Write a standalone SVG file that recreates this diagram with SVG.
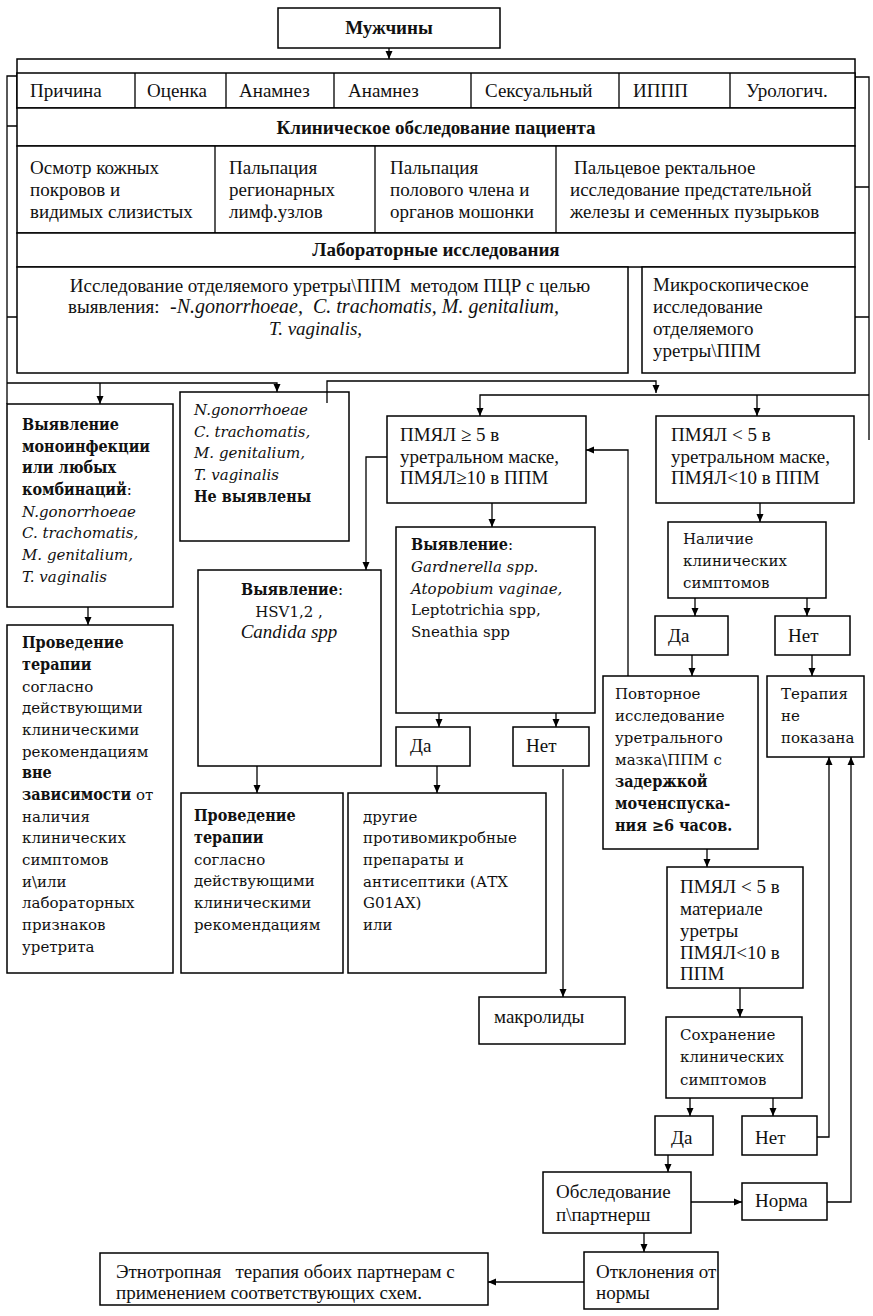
<svg xmlns="http://www.w3.org/2000/svg" width="873" height="1316" viewBox="0 0 873 1316">
<defs>
<style>
.b{fill:#fff;stroke:#000;stroke-width:1.5}
.ln{fill:none;stroke:#000;stroke-width:1.3}
.t{font-family:"Liberation Serif","Times New Roman",serif;font-size:19px;fill:#111}
.w{font-family:"DejaVu Serif",serif;font-size:15px;fill:#111}
.wb{font-family:"DejaVu Serif Condensed","DejaVu Serif",serif;font-stretch:condensed;font-weight:bold;font-size:16px}
.i{font-style:italic}
.bd{font-weight:bold}
.c{text-anchor:middle}
.pre{white-space:pre}
</style>
<marker id="ah" viewBox="0 0 8 8" refX="8" refY="4" markerWidth="8" markerHeight="8" markerUnits="userSpaceOnUse" orient="auto">
<path d="M0,0.5 L8,4 L0,7.5 z" fill="#000"/>
</marker>
</defs>
<rect width="873" height="1316" fill="#fff"/>

<g id="muzhchiny">
<rect class="b" x="278" y="8" width="222" height="40"/>
<text class="t bd c" x="389" y="34">Мужчины</text>
</g>

<g id="top-frame">
<rect class="b" x="17" y="59" width="838" height="49"/>
</g>

<g id="anamnez-row">
<rect class="b" x="17" y="73" width="838" height="35"/>
<path class="ln" d="M135,73V108M226,73V108M334,73V108M471,73V108M619,73V108M730,73V108"/>
<text class="t" x="30" y="97">Причина</text>
<text class="t" x="147" y="97">Оценка</text>
<text class="t" x="239" y="97">Анамнез</text>
<text class="t" x="348" y="97">Анамнез</text>
<text class="t" x="485" y="97">Сексуальный</text>
<text class="t" x="633" y="97">ИППП</text>
<text class="t" x="746" y="97">Урологич.</text>
</g>

<g id="klin">
<rect class="b" x="17" y="108" width="838" height="38"/>
<text class="t bd c" x="436" y="134">Клиническое обследование пациента</text>
</g>

<g id="osmotr-row">
<rect class="b" x="17" y="146" width="838" height="87"/>
<path class="ln" d="M215,146V233M375,146V233M556,146V233"/>
<text class="t" x="30" y="174">Осмотр кожных</text>
<text class="t" x="30" y="196">покровов и</text>
<text class="t" x="30" y="218">видимых слизистых</text>
<text class="t" x="229" y="174">Пальпация</text>
<text class="t" x="229" y="196">регионарных</text>
<text class="t" x="229" y="218">лимф.узлов</text>
<text class="t" x="390" y="174">Пальпация</text>
<text class="t" x="390" y="196">полового члена и</text>
<text class="t" x="390" y="218">органов мошонки</text>
<text class="t" x="574" y="174">Пальцевое ректальное</text>
<text class="t" x="570" y="196">исследование предстательной</text>
<text class="t" x="570" y="218">железы и семенных пузырьков</text>
</g>

<g id="lab">
<rect class="b" x="17" y="233" width="838" height="34"/>
<text class="t bd c" x="436" y="256">Лабораторные исследования</text>
</g>

<g id="pcr">
<rect class="b" x="17" y="267" width="611" height="106"/>
<text class="t c pre" x="330" y="292">Исследование отделяемого уретры\ППМ  методом ПЦР с целью</text>
<text class="t pre" x="68" y="313">выявления:<tspan class="i" x="170" font-size="20">-N.gonorrhoeae,  C. trachomatis, M. genitalium,</tspan></text>
<text class="t i" x="269" y="335">T. vaginalis,</text>
</g>

<g id="micro">
<rect class="b" x="642" y="267" width="213" height="106"/>
<text class="t" x="653" y="291">Микроскопическое</text>
<text class="t" x="653" y="313">исследование</text>
<text class="t" x="653" y="335">отделяемого</text>
<text class="t" x="653" y="357">уретры\ППМ</text>
</g>

<g id="vyyavlenie-mono">
<rect class="b" x="7" y="404" width="166" height="203"/>
<text class="w wb" x="22" y="430">Выявление</text>
<text class="w wb" x="22" y="452">моноинфекции</text>
<text class="w wb" x="22" y="473">или любых</text>
<text class="w" x="22" y="495"><tspan class="wb">комбинаций</tspan>:</text>
<text class="w i" x="22" y="517">N.gonorrhoeae</text>
<text class="w i" x="22" y="538">C. trachomatis,</text>
<text class="w i" x="22" y="560">M. genitalium,</text>
<text class="w i" x="22" y="582">T. vaginalis</text>
</g>

<g id="ne-vyyavleny">
<rect class="b" x="180" y="392" width="169" height="149"/>
<text class="w i" x="194" y="415">N.gonorrhoeae</text>
<text class="w i" x="194" y="437">C. trachomatis,</text>
<text class="w i" x="194" y="458">M. genitalium,</text>
<text class="w i" x="194" y="480">T. vaginalis</text>
<text class="w wb" x="194" y="502">Не выявлены</text>
</g>

<g id="pmyal-ge5">
<rect class="b" x="387" y="416" width="199" height="87"/>
<text class="t" x="400" y="441">ПМЯЛ ≥ 5 в</text>
<text class="t" x="400" y="463">уретральном маске,</text>
<text class="t" x="400" y="484">ПМЯЛ≥10 в ППМ</text>
</g>

<g id="pmyal-lt5">
<rect class="b" x="656" y="416" width="198" height="87"/>
<text class="t" x="671" y="441">ПМЯЛ &lt; 5 в</text>
<text class="t" x="671" y="463">уретральном маске,</text>
<text class="t" x="671" y="484">ПМЯЛ&lt;10 в ППМ</text>
</g>

<g id="gardnerella">
<rect class="b" x="396" y="527" width="199" height="186"/>
<text class="w" x="411" y="550"><tspan class="wb">Выявление</tspan>:</text>
<text class="w i" x="411" y="572">Gardnerella spp.</text>
<text class="w i" x="411" y="594">Atopobium vaginae,</text>
<text class="w" x="411" y="615">Leptotrichia spp,</text>
<text class="w" x="411" y="637">Sneathia spp</text>
</g>

<g id="nalichie">
<rect class="b" x="668" y="522" width="158" height="76"/>
<text class="w" x="683" y="544">Наличие</text>
<text class="w" x="683" y="566">клинических</text>
<text class="w" x="683" y="588">симптомов</text>
</g>

<g id="hsv">
<rect class="b" x="198" y="570" width="183" height="196"/>
<text class="w c" x="292" y="595"><tspan class="wb">Выявление</tspan>:</text>
<text class="w c pre" x="289" y="617">HSV1,2 ,</text>
<text class="t i c" x="289" y="638">Candida spp</text>
</g>

<g id="da1">
<rect class="b" x="655" y="616" width="73" height="39"/>
<text class="t" x="668" y="642">Да</text>
</g>
<g id="net1">
<rect class="b" x="775" y="616" width="75" height="39"/>
<text class="t" x="788" y="642">Нет</text>
</g>

<g id="provedenie-1">
<rect class="b" x="7" y="625" width="166" height="348"/>
<text class="w wb" x="22" y="648">Проведение</text>
<text class="w wb" x="22" y="670">терапии</text>
<text class="w" x="22" y="692">согласно</text>
<text class="w" x="22" y="713">действующими</text>
<text class="w" x="22" y="735">клиническими</text>
<text class="w" x="22" y="757">рекомендациям</text>
<text class="w wb" x="22" y="778">вне</text>
<text class="w" x="22" y="800"><tspan class="wb">зависимости</tspan> от</text>
<text class="w" x="22" y="822">наличия</text>
<text class="w" x="22" y="843">клинических</text>
<text class="w" x="22" y="865">симптомов</text>
<text class="w" x="22" y="887">и\или</text>
<text class="w" x="22" y="908">лабораторных</text>
<text class="w" x="22" y="930">признаков</text>
<text class="w" x="22" y="952">уретрита</text>
</g>

<g id="povtornoe">
<rect class="b" x="603" y="676" width="155" height="173"/>
<text class="w" x="615" y="699">Повторное</text>
<text class="w" x="615" y="721">исследование</text>
<text class="w" x="615" y="743">уретрального</text>
<text class="w" x="615" y="765">мазка\ППМ с</text>
<text class="w wb" x="615" y="787">задержкой</text>
<text class="w wb" x="615" y="809">моченспуска-</text>
<text class="w wb" x="615" y="831">ния ≥6 часов.</text>
</g>

<g id="terapia-ne">
<rect class="b" x="767" y="676" width="97" height="81"/>
<text class="w" x="781" y="699">Терапия</text>
<text class="w" x="781" y="721">не</text>
<text class="w" x="781" y="743">показана</text>
</g>

<g id="da2">
<rect class="b" x="396" y="727" width="74" height="39"/>
<text class="t" x="410" y="752">Да</text>
</g>
<g id="net2">
<rect class="b" x="513" y="727" width="76" height="39"/>
<text class="t" x="526" y="752">Нет</text>
</g>

<g id="provedenie-2">
<rect class="b" x="181" y="793" width="162" height="180"/>
<text class="w wb" x="194" y="821">Проведение</text>
<text class="w wb" x="194" y="843">терапии</text>
<text class="w" x="194" y="865">согласно</text>
<text class="w" x="194" y="886">действующими</text>
<text class="w" x="194" y="908">клиническими</text>
<text class="w" x="194" y="930">рекомендациям</text>
</g>

<g id="drugie">
<rect class="b" x="348" y="793" width="198" height="180"/>
<text class="w" x="363" y="822">другие</text>
<text class="w" x="363" y="843">противомикробные</text>
<text class="w" x="363" y="865">препараты и</text>
<text class="w" x="363" y="887">антисептики (АТХ</text>
<text class="w" x="363" y="908">G01AX)</text>
<text class="w" x="363" y="930">или</text>
</g>

<g id="makrolidy">
<rect class="b" x="479" y="997" width="146" height="47"/>
<text class="t" x="494" y="1023">макролиды</text>
</g>

<g id="pmyal-material">
<rect class="b" x="667" y="867" width="136" height="121"/>
<text class="t" x="680" y="893">ПМЯЛ &lt; 5 в</text>
<text class="t" x="680" y="915">материале</text>
<text class="t" x="680" y="937">уретры</text>
<text class="t" x="680" y="959">ПМЯЛ&lt;10 в</text>
<text class="t" x="680" y="980">ППМ</text>
</g>

<g id="sohranenie">
<rect class="b" x="666" y="1017" width="136" height="81"/>
<text class="w" x="680" y="1040">Сохранение</text>
<text class="w" x="680" y="1062">клинических</text>
<text class="w" x="680" y="1085">симптомов</text>
</g>

<g id="da3">
<rect class="b" x="655" y="1116" width="58" height="39"/>
<text class="t" x="671" y="1144">Да</text>
</g>
<g id="net3">
<rect class="b" x="742" y="1116" width="75" height="39"/>
<text class="t" x="755" y="1144">Нет</text>
</g>

<g id="obsledovanie">
<rect class="b" x="543" y="1172" width="148" height="61"/>
<text class="t" x="556" y="1198">Обследование</text>
<text class="t" x="556" y="1221">п\партнерш</text>
</g>

<g id="norma">
<rect class="b" x="742" y="1183" width="85" height="37"/>
<text class="t" x="755" y="1207">Норма</text>
</g>

<g id="otkloneniya">
<rect class="b" x="584" y="1252" width="134" height="57"/>
<text class="t" x="596" y="1278">Отклонения от</text>
<text class="t" x="596" y="1299">нормы</text>
</g>

<g id="etnotropnaya">
<rect class="b" x="100" y="1253" width="388" height="52"/>
<text class="t pre" x="116" y="1278">Этнотропная   терапия обоих партнерам с</text>
<text class="t" x="116" y="1299">применением соответствующих схем.</text>
</g>

<g id="connectors">
<path class="ln" d="M389,48V59" marker-end="url(#ah)"/>
<path class="ln" d="M17,76H7V404M7,126H17M7,317H17"/>
<path class="ln" d="M7,383H277V392" marker-end="url(#ah)"/>
<path class="ln" d="M100,383V404" marker-end="url(#ah)"/>
<path class="ln" d="M855,77H869V440M855,187H869M855,317H869"/>
<path class="ln" d="M869,395H480V416" marker-end="url(#ah)"/>
<path class="ln" d="M757,395V416" marker-end="url(#ah)"/>
<path class="ln" d="M327,403V381H656V393" marker-end="url(#ah)"/>
<path class="ln" d="M492,503V527" marker-end="url(#ah)"/>
<path class="ln" d="M387,457H366V570" marker-end="url(#ah)"/>
<path class="ln" d="M628,676V450H586" marker-end="url(#ah)"/>
<path class="ln" d="M760,503V522" marker-end="url(#ah)"/>
<path class="ln" d="M695,598V616" marker-end="url(#ah)"/>
<path class="ln" d="M807,598V616" marker-end="url(#ah)"/>
<path class="ln" d="M692,655V676" marker-end="url(#ah)"/>
<path class="ln" d="M812,655V676" marker-end="url(#ah)"/>
<path class="ln" d="M439,713V727" marker-end="url(#ah)"/>
<path class="ln" d="M556,713V727" marker-end="url(#ah)"/>
<path class="ln" d="M437,766V793" marker-end="url(#ah)"/>
<path class="ln" d="M563,769V997" marker-end="url(#ah)"/>
<path class="ln" d="M88,607V625" marker-end="url(#ah)"/>
<path class="ln" d="M257,766V793" marker-end="url(#ah)"/>
<path class="ln" d="M707,849V867" marker-end="url(#ah)"/>
<path class="ln" d="M740,988V1017" marker-end="url(#ah)"/>
<path class="ln" d="M690,1098V1116" marker-end="url(#ah)"/>
<path class="ln" d="M773,1098V1116" marker-end="url(#ah)"/>
<path class="ln" d="M817,1137H829V757" marker-end="url(#ah)"/>
<path class="ln" d="M668,1155V1172" marker-end="url(#ah)"/>
<path class="ln" d="M691,1202H742" marker-end="url(#ah)"/>
<path class="ln" d="M827,1202H851V757" marker-end="url(#ah)"/>
<path class="ln" d="M644,1233V1252" marker-end="url(#ah)"/>
<path class="ln" d="M584,1282H488" marker-end="url(#ah)"/>
</g>
</svg>
